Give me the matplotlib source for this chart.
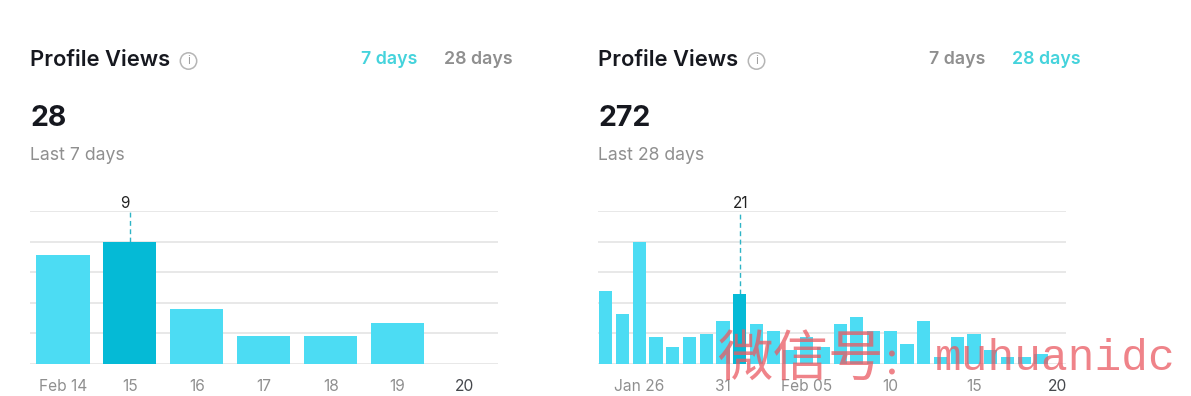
import matplotlib
matplotlib.use('Agg')
import matplotlib.pyplot as plt
from matplotlib.patches import Circle

W, H = 1191, 396

# 7 day panel
values_7 = [8, 9, 4, 2, 2, 3, 0]
labels_7 = ['Feb 14', '15', '16', '17', '18', '19', '20']
ticks_7 = [0, 1, 2, 3, 4, 5, 6]
peak_7 = 1

# 28 day panel (Jan 24 - Feb 20)
values_28 = [22, 15, 37, 8, 5, 8, 9, 13, 21, 12, 10, 4, 8, 5,
             12, 14, 10, 10, 6, 13, 2, 8, 9, 4, 2, 2, 3, 0]
labels_28 = ['Jan 26', '31', 'Feb 05', '10', '15', '20']
ticks_28 = [2, 7, 12, 17, 22, 27]
peak_28 = 8

BAR = '#4cdcf3'
BAR_DARK = '#05bad6'
GRID = '#e2e2e2'
TEAL = '#45d3dc'
GREY = '#8f8f8f'
DARK = '#16181f'

plt.rcParams['font.family'] = ['Inter', 'DejaVu Sans']

fig = plt.figure(figsize=(W / 100, H / 100), dpi=100)


def draw_panel(x0, values, labels, ticks, peak, width, peak_label, peak_x):
    left, right, top, bottom = x0 - 0.5, x0 + 468, 211, 363.5
    ax = fig.add_axes([left / W, 1 - bottom / H, (right - left) / W, (bottom - top) / H])
    n = len(values)
    ymax = max(values) * 5 / 4
    colors = [BAR_DARK if i == peak else BAR for i in range(n)]
    ax.bar(range(n), values, width=width, color=colors, zorder=3)
    ax.set_xlim(-0.5, n - 0.5)
    ax.set_ylim(0, ymax)
    ax.set_yticks([ymax * i / 5 for i in range(6)])
    ax.set_yticklabels([])
    ax.grid(True, axis='y', color=GRID, linewidth=1.1)
    ax.set_axisbelow(True)
    for s in ax.spines.values():
        s.set_visible(False)
    ax.tick_params(length=0)
    ax.set_xticks(ticks)
    ax.set_xticklabels(labels, fontsize=11.2, color=GREY)
    ax.tick_params(axis='x', pad=11)
    ax.get_xticklabels()[-1].set_color('#45474c')
    ax.plot([peak, peak], [values[peak], ymax], color='#2fb4c6', linewidth=1,
            linestyle=(0, (3.5, 2.5)), zorder=2, clip_on=False)

    # header texts, pixel positions
    ov.text(x0, 60, 'Profile Views', fontsize=15.8, fontweight='semibold', color=DARK, va='center')
    ov.add_patch(Circle((x0 + 158.5, 61), 8.2, fill=False, edgecolor='#b5b5b5', linewidth=1.1))
    ov.text(x0 + 158.5, 61, 'i', fontsize=8.5, color='#a0a0a0', ha='center', va='center')
    ov.text(x0, 118, str(sum(values)), fontsize=20.5, fontweight='bold', color=DARK, va='center')
    ov.text(x0, 156, 'Last %d days' % n, fontsize=12.7, color=GREY, va='center')
    ov.text(x0 + 331, 59, '7 days', fontsize=12.8, fontweight='semibold',
            color=TEAL if n == 7 else GREY, va='center')
    ov.text(x0 + 414, 59, '28 days', fontsize=12.8, fontweight='semibold',
            color=TEAL if n == 28 else GREY, va='center')
    ov.text(peak_x, 203, peak_label, fontsize=11, color='#222222', ha='center', va='center')


ov = fig.add_axes([0, 0, 1, 1], zorder=5)
ov.set_xlim(0, W)
ov.set_ylim(H, 0)
ov.axis('off')
ov.patch.set_alpha(0)

draw_panel(30, values_7, labels_7, ticks_7, peak_7, 0.795, '9', 125)
draw_panel(598, values_28, labels_28, ticks_28, peak_28, 0.79, '21', 741)

# watermark
wm = '#ea5a62'
ov.text(717, 360, '微信号', fontsize=40, color=wm, alpha=0.75, va='center',
        family=['Noto Sans CJK SC', 'DejaVu Sans'])
ov.text(892, 362, ':', fontsize=36, color=wm, alpha=0.75, va='center', ha='center',
        family='Liberation Serif')
ov.text(935, 358, 'muhuanidc', fontsize=32, color=wm, alpha=0.75, va='center',
        family='Liberation Mono')

fig.savefig('out.png', dpi=100, facecolor='white')
